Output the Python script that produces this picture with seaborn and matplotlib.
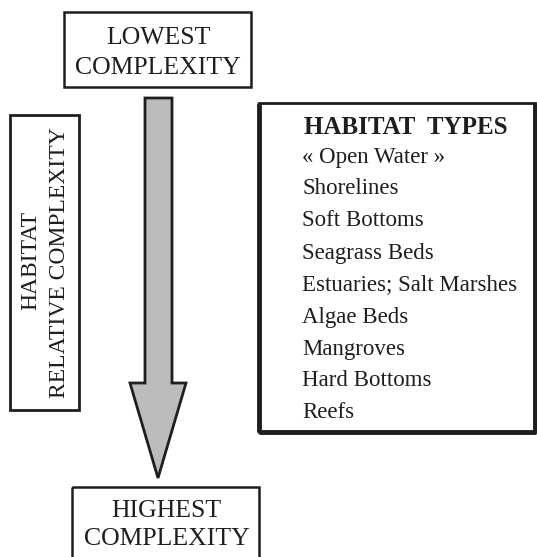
import matplotlib
matplotlib.use("Agg")
import matplotlib.pyplot as plt
import seaborn as sns
from matplotlib.patches import Rectangle, Polygon

# diagram text
top_label = ["LOWEST", "COMPLEXITY"]
bottom_label = ["HIGHEST", "COMPLEXITY"]
side_label = ["HABITAT", "RELATIVE COMPLEXITY"]
list_title = "HABITAT  TYPES"
habitat_types = [
    "« Open Water »",
    "Shorelines",
    "Soft Bottoms",
    "Seagrass Beds",
    "Estuaries; Salt Marshes",
    "Algae Beds",
    "Mangroves",
    "Hard Bottoms",
    "Reefs",
]

sns.set_style("white")
plt.rcParams["font.family"] = ["Liberation Serif", "DejaVu Serif"]

W, H = 537, 557
fig = plt.figure(figsize=(W / 100, H / 100), dpi=100)
ax = fig.add_axes([0, 0, 1, 1])
ax.set_xlim(0, W)
ax.set_ylim(H, 0)
ax.axis("off")

ink = "#1e1e1e"
fs = 18.5

# top box
ax.add_patch(Rectangle((64, 12), 187, 75, fill=False, ec=ink, lw=1.8))
ax.text(158, 38, top_label[0], ha="center", va="center", fontsize=fs, color=ink)
ax.text(158, 68, top_label[1], ha="center", va="center", fontsize=fs, color=ink)

# bottom box (runs off the bottom edge)
ax.add_patch(Rectangle((72, 487), 187, 90, fill=False, ec=ink, lw=1.8))
ax.text(166, 511, bottom_label[0], ha="center", va="center", fontsize=fs, color=ink)
ax.text(167, 539, bottom_label[1], ha="center", va="center", fontsize=fs, color=ink)

# big downward arrow
arrow = [(145, 98), (172, 98), (172, 383), (186, 383), (158, 478),
         (130, 383), (145, 383)]
ax.add_patch(Polygon(arrow, closed=True, fc="#bcbcbc", ec=ink, lw=2))

# side box with rotated text
ax.add_patch(Rectangle((10, 115), 69, 295, fill=False, ec=ink, lw=2))
ax.text(31, 260, side_label[0], rotation=90, ha="center", va="center",
        fontsize=17, color=ink)
ax.text(60, 263, side_label[1], rotation=90, ha="center", va="center",
        fontsize=17, color=ink)

# habitat types list box
ax.add_patch(Rectangle((259, 103), 276, 329, fill=False, ec=ink, lw=2))
ax.plot([259, 259], [103, 432], color=ink, lw=3.5, solid_capstyle="butt")
ax.plot([259, 536], [432, 432], color=ink, lw=3.5, solid_capstyle="butt")
ax.plot([535, 535], [103, 432], color=ink, lw=3.5, solid_capstyle="butt")
ax.text(406, 127, list_title, ha="center", va="center", fontsize=18,
        fontweight="bold", color=ink)
for i, name in enumerate(habitat_types):
    ax.text(302, 157 + i * 32, name, ha="left", va="center",
            fontsize=16.5, color=ink)

fig.savefig("out.png", dpi=100, facecolor="white")
